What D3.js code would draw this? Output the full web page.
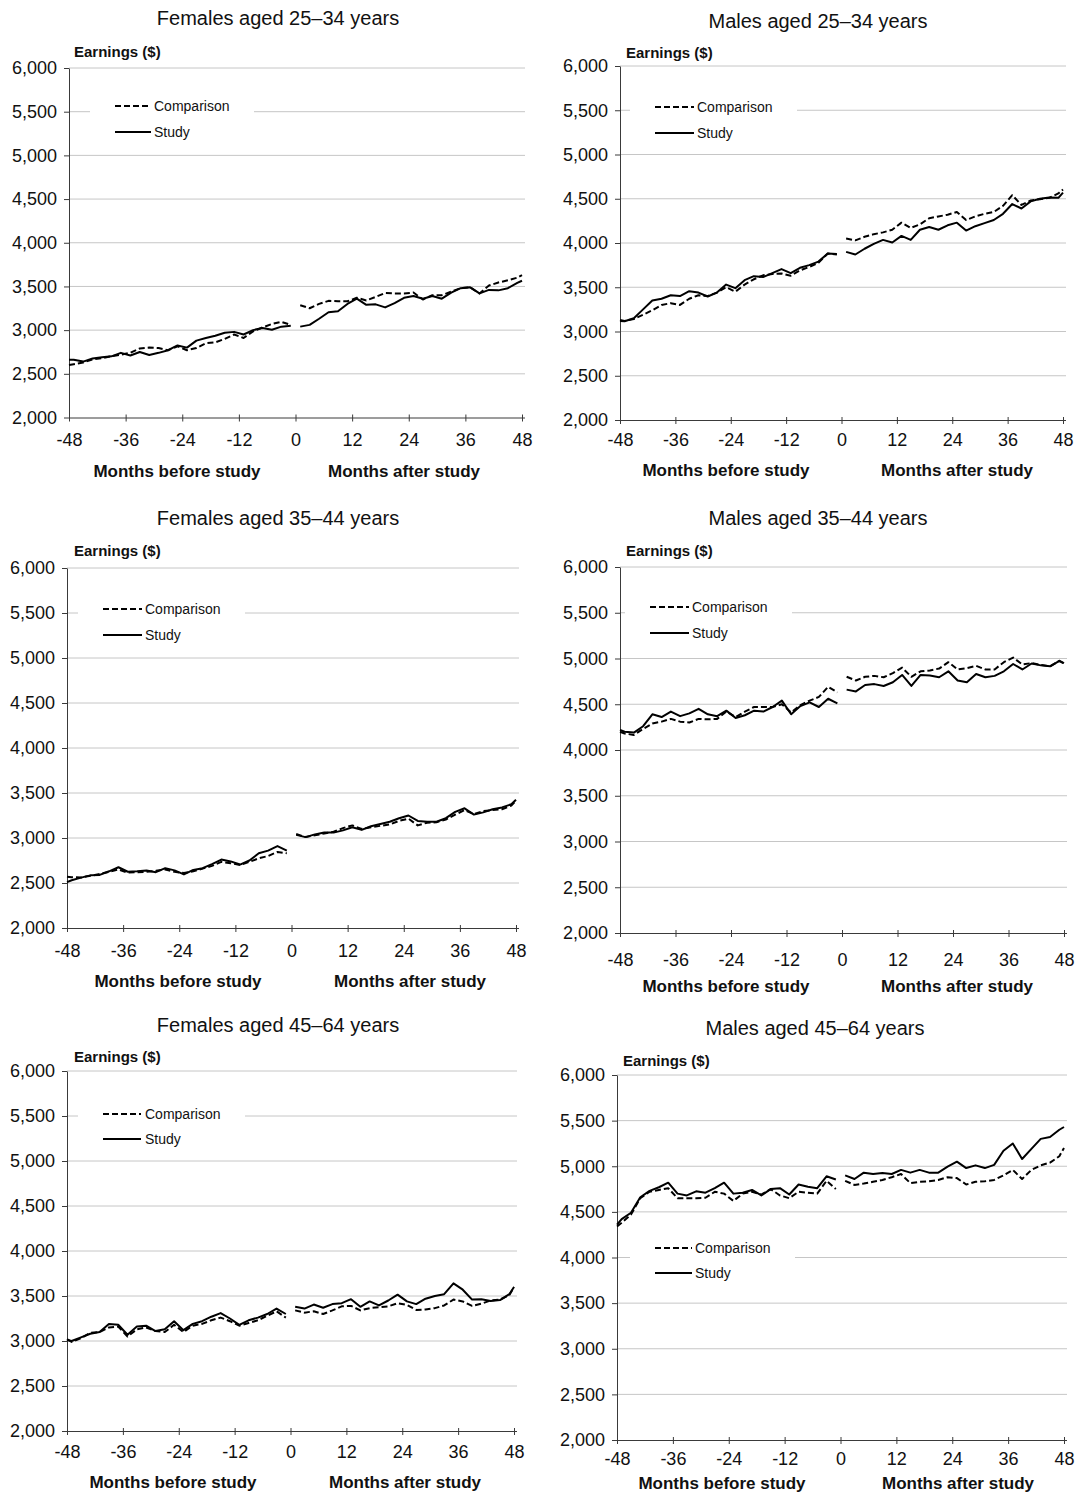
<!DOCTYPE html>
<html>
<head>
<meta charset="utf-8">
<script src="https://cdn.jsdelivr.net/npm/d3@7"></script>
<style>
  html, body { margin: 0; padding: 0; background: #fff; }
  svg { display: block; font-family: "Liberation Sans", Arial, sans-serif; }
</style>
</head>
<body>
<svg id="chart" width="1080" height="1493"></svg>
<script>
// Months relative to study start (no observation at month 0)
const preMonths = [-48, -47, -45, -43, -41, -39, -37, -35, -33, -31, -29, -27, -25, -23, -21, -19, -17, -15, -13, -11, -9, -7, -5, -3, -1];
const postMonths = [1, 3, 5, 7, 9, 11, 13, 15, 17, 19, 21, 23, 25, 27, 29, 31, 33, 35, 37, 39, 41, 43, 45, 47, 48];

const yTicks = [2000, 2500, 3000, 3500, 4000, 4500, 5000, 5500, 6000];
const xTicks = [-48, -36, -24, -12, 0, 12, 24, 36, 48];

const panelTitles = [
  "Females aged 25\u201334 years", "Males aged 25\u201334 years",
  "Females aged 35\u201344 years", "Males aged 35\u201344 years",
  "Females aged 45\u201364 years", "Males aged 45\u201364 years"
];
const seriesNames = ["Comparison", "Study"];

// Monthly earnings ($)
const f2534CompPre   = [2600, 2610, 2630, 2665, 2680, 2700, 2720, 2740, 2790, 2800, 2795, 2770, 2815, 2770, 2795, 2850, 2860, 2900, 2950, 2910, 2985, 3030, 3070, 3095, 3060];
const f2534CompPost  = [3285, 3250, 3300, 3335, 3330, 3330, 3370, 3340, 3380, 3425, 3420, 3420, 3430, 3350, 3400, 3400, 3440, 3480, 3490, 3420, 3510, 3545, 3570, 3600, 3630];
const f2534StudyPre  = [2660, 2660, 2640, 2675, 2690, 2700, 2740, 2710, 2750, 2715, 2740, 2770, 2825, 2800, 2880, 2910, 2935, 2970, 2980, 2950, 3000, 3025, 3005, 3040, 3050];
const f2534StudyPost = [3040, 3060, 3130, 3205, 3215, 3300, 3360, 3290, 3295, 3260, 3310, 3370, 3390, 3360, 3390, 3360, 3430, 3480, 3490, 3420, 3460, 3455, 3480, 3540, 3565];

const m2534CompPre   = [3130, 3120, 3140, 3190, 3240, 3300, 3320, 3300, 3370, 3410, 3400, 3440, 3500, 3450, 3530, 3590, 3635, 3650, 3655, 3630, 3690, 3730, 3775, 3880, 3870];
const m2534CompPost  = [4050, 4030, 4070, 4100, 4120, 4150, 4230, 4170, 4210, 4280, 4300, 4320, 4350, 4260, 4300, 4330, 4350, 4420, 4540, 4430, 4480, 4495, 4510, 4560, 4605];
const m2534StudyPre  = [3120, 3115, 3150, 3250, 3350, 3370, 3410, 3400, 3455, 3440, 3395, 3440, 3530, 3490, 3580, 3625, 3615, 3660, 3705, 3660, 3720, 3750, 3790, 3880, 3875];
const m2534StudyPost = [3900, 3870, 3935, 3990, 4035, 4005, 4080, 4035, 4150, 4180, 4150, 4200, 4230, 4140, 4190, 4225, 4260, 4330, 4440, 4390, 4470, 4500, 4515, 4510, 4570];

const f3544CompPre   = [2570, 2565, 2560, 2580, 2600, 2625, 2650, 2615, 2620, 2625, 2635, 2650, 2625, 2610, 2630, 2660, 2690, 2735, 2720, 2700, 2735, 2775, 2800, 2845, 2830];
const f3544CompPost  = [3045, 3010, 3030, 3050, 3070, 3110, 3140, 3100, 3120, 3135, 3150, 3190, 3215, 3140, 3170, 3175, 3205, 3260, 3310, 3265, 3300, 3310, 3320, 3360, 3415];
const f3544StudyPre  = [2510, 2530, 2560, 2585, 2590, 2630, 2675, 2625, 2630, 2640, 2620, 2665, 2640, 2595, 2645, 2665, 2710, 2760, 2740, 2705, 2750, 2830, 2860, 2910, 2860];
const f3544StudyPost = [3035, 3010, 3040, 3060, 3060, 3085, 3120, 3090, 3130, 3155, 3180, 3220, 3250, 3190, 3180, 3180, 3220, 3290, 3330, 3260, 3285, 3320, 3340, 3375, 3425];

const m3544CompPre   = [4200, 4180, 4165, 4230, 4290, 4310, 4340, 4310, 4300, 4340, 4335, 4340, 4420, 4360, 4420, 4470, 4470, 4470, 4500, 4410, 4490, 4540, 4580, 4690, 4630];
const m3544CompPost  = [4800, 4760, 4800, 4810, 4795, 4840, 4900, 4800, 4860, 4870, 4890, 4960, 4880, 4895, 4920, 4880, 4880, 4960, 5010, 4935, 4950, 4930, 4915, 4975, 4945];
const m3544StudyPre  = [4220, 4200, 4190, 4260, 4390, 4360, 4420, 4370, 4400, 4450, 4390, 4370, 4430, 4350, 4380, 4430, 4420, 4470, 4540, 4390, 4480, 4520, 4470, 4560, 4510];
const m3544StudyPost = [4660, 4640, 4710, 4720, 4700, 4740, 4820, 4700, 4820, 4815, 4795, 4860, 4760, 4740, 4830, 4795, 4810, 4860, 4940, 4880, 4945, 4925, 4915, 4975, 4950];

const f4564CompPre   = [3020, 2990, 3030, 3090, 3100, 3150, 3160, 3050, 3130, 3150, 3110, 3100, 3180, 3100, 3170, 3190, 3230, 3260, 3220, 3170, 3200, 3230, 3280, 3330, 3260];
const f4564CompPost  = [3340, 3315, 3330, 3300, 3340, 3385, 3390, 3340, 3365, 3375, 3385, 3420, 3400, 3345, 3350, 3365, 3395, 3460, 3440, 3390, 3415, 3450, 3460, 3510, 3600];
const f4564StudyPre  = [3010, 3000, 3040, 3080, 3100, 3190, 3180, 3070, 3160, 3170, 3110, 3130, 3220, 3120, 3190, 3220, 3270, 3310, 3250, 3180, 3230, 3260, 3300, 3360, 3300];
const f4564StudyPost = [3380, 3360, 3405, 3370, 3410, 3420, 3465, 3380, 3440, 3395, 3450, 3515, 3440, 3410, 3470, 3500, 3520, 3640, 3570, 3460, 3465, 3445, 3455, 3520, 3600];

const m4564CompPre   = [4340, 4380, 4470, 4650, 4720, 4740, 4760, 4650, 4650, 4650, 4655, 4720, 4700, 4620, 4700, 4720, 4690, 4750, 4680, 4650, 4720, 4710, 4700, 4840, 4750];
const m4564CompPost  = [4840, 4795, 4810, 4830, 4850, 4880, 4915, 4815, 4830, 4835, 4850, 4880, 4870, 4800, 4830, 4835, 4850, 4900, 4960, 4860, 4960, 5010, 5040, 5110, 5200];
const m4564StudyPre  = [4360, 4420, 4490, 4660, 4730, 4770, 4820, 4700, 4680, 4725, 4710, 4760, 4820, 4700, 4710, 4740, 4680, 4750, 4760, 4690, 4800, 4775, 4760, 4890, 4855];
const m4564StudyPost = [4900, 4860, 4930, 4915, 4925, 4915, 4960, 4930, 4960, 4930, 4930, 4995, 5050, 4980, 5010, 4980, 5015, 5170, 5250, 5080, 5190, 5300, 5320, 5400, 5430];

const panelSeries = [
  { comp: [f2534CompPre, f2534CompPost], study: [f2534StudyPre, f2534StudyPost] },
  { comp: [m2534CompPre, m2534CompPost], study: [m2534StudyPre, m2534StudyPost] },
  { comp: [f3544CompPre, f3544CompPost], study: [f3544StudyPre, f3544StudyPost] },
  { comp: [m3544CompPre, m3544CompPost], study: [m3544StudyPre, m3544StudyPost] },
  { comp: [f4564CompPre, f4564CompPost], study: [f4564StudyPre, f4564StudyPost] },
  { comp: [m4564CompPre, m4564CompPost], study: [m4564StudyPre, m4564StudyPost] }
];

// Page placement of each small multiple
const layout = [
  { x0: 69,  x1: 522,  yTop: 68,   yBot: 417.5, titleX: 278, titleY: 25,   earnX: 74,  earnY: 57,   tickY: 446,  monthsY: 477,  beforeX: 177, afterX: 404, legX0: 115, legX1: 151, legCompY: 106,  legStudyY: 132,  legTextX: 154 },
  { x0: 620, x1: 1063, yTop: 66,   yBot: 420,   titleX: 818, titleY: 28,   earnX: 626, earnY: 58,   tickY: 446,  monthsY: 476,  beforeX: 726, afterX: 957, legX0: 655, legX1: 694, legCompY: 107,  legStudyY: 133,  legTextX: 697 },
  { x0: 67,  x1: 516,  yTop: 568,  yBot: 928,   titleX: 278, titleY: 525,  earnX: 74,  earnY: 556,  tickY: 957,  monthsY: 987,  beforeX: 178, afterX: 410, legX0: 103, legX1: 142, legCompY: 609,  legStudyY: 635,  legTextX: 145 },
  { x0: 620, x1: 1064, yTop: 567,  yBot: 933,   titleX: 818, titleY: 525,  earnX: 626, earnY: 556,  tickY: 966,  monthsY: 992,  beforeX: 726, afterX: 957, legX0: 650, legX1: 689, legCompY: 607,  legStudyY: 633,  legTextX: 692 },
  { x0: 67,  x1: 514,  yTop: 1071, yBot: 1431,  titleX: 278, titleY: 1032, earnX: 74,  earnY: 1062, tickY: 1458, monthsY: 1488, beforeX: 173, afterX: 405, legX0: 103, legX1: 141, legCompY: 1114, legStudyY: 1139, legTextX: 145 },
  { x0: 617, x1: 1064, yTop: 1075, yBot: 1440,  titleX: 815, titleY: 1035, earnX: 623, earnY: 1066, tickY: 1465, monthsY: 1489, beforeX: 722, afterX: 958, legX0: 655, legX1: 692, legCompY: 1248, legStudyY: 1273, legTextX: 695 }
];

const svg = d3.select("#chart");
const DASH = "6,3";

panelSeries.forEach((ps, i) => {
  const L = layout[i];
  const g = svg.append("g");

  const x = d3.scaleLinear().domain([-48, 48]).range([L.x0, L.x1]);
  const y = d3.scaleLinear().domain([2000, 6000]).range([L.yBot, L.yTop]);

  // horizontal gridlines
  g.append("g").selectAll("line")
    .data(yTicks.filter(t => t > 2000))
    .join("line")
    .attr("x1", L.x0).attr("x2", L.x1 + 3)
    .attr("y1", d => y(d)).attr("y2", d => y(d))
    .attr("stroke", "#c6c6c6").attr("stroke-width", 1);

  // y axis
  const yAxis = g.append("g")
    .attr("transform", `translate(${L.x0},0)`)
    .call(d3.axisLeft(y).tickValues(yTicks).tickFormat(d3.format(",")).tickSizeInner(5).tickSizeOuter(0).tickPadding(7));
  yAxis.select(".domain").attr("stroke", "#3a3a3a");
  yAxis.selectAll(".tick line").attr("stroke", "#3a3a3a");
  yAxis.selectAll(".tick text")
    .attr("fill", "#111").attr("font-size", 18).attr("font-family", "Liberation Sans, Arial, sans-serif");

  // x axis with ticks crossing the baseline; labels use a plain hyphen
  const xAxis = g.append("g")
    .attr("transform", `translate(0,${L.yBot})`)
    .call(d3.axisBottom(x).tickValues(xTicks).tickFormat(d => String(d)).tickSizeInner(4).tickSizeOuter(0));
  xAxis.select(".domain").attr("stroke", "#3a3a3a").attr("d", `M${L.x0},0.5H${L.x1 + 3}`);
  xAxis.selectAll(".tick line").attr("stroke", "#3a3a3a").attr("y1", -3).attr("y2", 4);
  xAxis.selectAll(".tick text")
    .attr("y", L.tickY - L.yBot).attr("dy", 0)
    .attr("fill", "#111").attr("font-size", 18).attr("font-family", "Liberation Sans, Arial, sans-serif");

  // titles and axis captions
  g.append("text").attr("x", L.titleX).attr("y", L.titleY)
    .attr("text-anchor", "middle").attr("font-size", 20).attr("fill", "#111")
    .text(panelTitles[i]);
  g.append("text").attr("x", L.earnX).attr("y", L.earnY)
    .attr("font-size", 15).attr("font-weight", "bold").attr("fill", "#111")
    .text("Earnings ($)");
  g.append("text").attr("x", L.beforeX).attr("y", L.monthsY)
    .attr("text-anchor", "middle").attr("font-size", 17).attr("font-weight", "bold").attr("fill", "#111")
    .text("Months before study");
  g.append("text").attr("x", L.afterX).attr("y", L.monthsY)
    .attr("text-anchor", "middle").attr("font-size", 17).attr("font-weight", "bold").attr("fill", "#111")
    .text("Months after study");

  // earnings lines, split at the study month
  const line = d3.line().x(d => x(d.m)).y(d => y(d.v));
  const toPts = (months, vals) => months.map((m, k) => ({ m, v: vals[k] }));
  const segs = [
    { pts: toPts(preMonths, ps.comp[0]), dash: DASH },
    { pts: toPts(postMonths, ps.comp[1]), dash: DASH },
    { pts: toPts(preMonths, ps.study[0]), dash: null },
    { pts: toPts(postMonths, ps.study[1]), dash: null }
  ];
  g.append("g").selectAll("path")
    .data(segs)
    .join("path")
    .attr("d", d => line(d.pts))
    .attr("fill", "none")
    .attr("stroke", "#000")
    .attr("stroke-width", 2)
    .attr("stroke-linejoin", "round")
    .attr("stroke-dasharray", d => d.dash);

  // legend
  const leg = g.append("g");
  leg.append("rect")
    .attr("x", L.legX0 - 25).attr("y", L.legCompY - 14)
    .attr("width", L.legTextX + 100 - (L.legX0 - 25)).attr("height", L.legStudyY - L.legCompY + 27)
    .attr("fill", "#fff");
  const legItems = [
    { name: seriesNames[0], yy: L.legCompY, dash: DASH },
    { name: seriesNames[1], yy: L.legStudyY, dash: null }
  ];
  legItems.forEach(it => {
    leg.append("line")
      .attr("x1", L.legX0).attr("x2", L.legX1)
      .attr("y1", it.yy).attr("y2", it.yy)
      .attr("stroke", "#000").attr("stroke-width", 2)
      .attr("stroke-dasharray", it.dash);
    leg.append("text")
      .attr("x", L.legTextX).attr("y", it.yy)
      .attr("dy", "0.35em").attr("font-size", 14).attr("fill", "#111")
      .text(it.name);
  });
});
</script>
</body>
</html>
